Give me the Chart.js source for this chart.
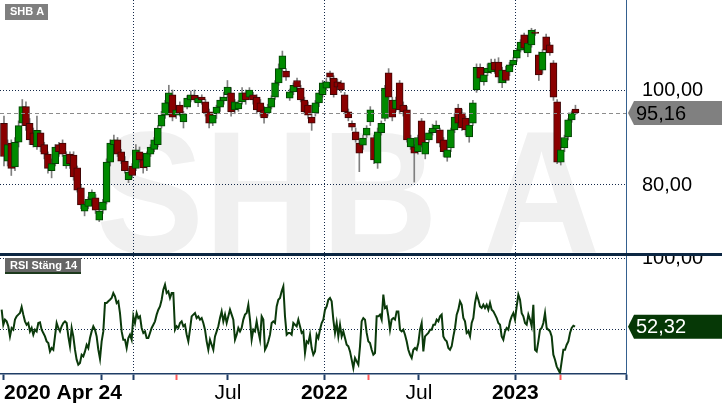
<!DOCTYPE html>
<html>
<head>
<meta charset="utf-8">
<title>SHB A</title>
<script src="https://cdn.jsdelivr.net/npm/chart.js@4.4.1/dist/chart.umd.min.js"></script>
<style>
  html, body { margin: 0; padding: 0; background: #fff; }
  #wrap { position: relative; width: 722px; height: 410px; overflow: hidden; }
  #pricePane { position: absolute; left: 0; top: 0; width: 722px; height: 256px; }
  #rsiPane { position: absolute; left: 0; top: 256px; width: 722px; height: 154px; }
</style>
</head>
<body>
<div id="wrap">
  <div id="pricePane"><canvas id="priceChart"></canvas></div>
  <div id="rsiPane"><canvas id="rsiChart"></canvas></div>
</div>
<script>
const ticker = 'SHB A';
const rsiTitle = 'RSI Stäng 14';

// x axis in days, counted from the first weekly candle
const xMin = -7.6;
const xMax = 1188.6;
const tickDays   = [0, 186, 247, 329, 428, 612, 696, 793, 977, 1063, xMax];
const tickLabels = ['2020 Apr 24', '', '', '', 'Jul', '2022', '', 'Jul', '2023', '', ''];
const yearDays   = [247, 612, 977];
const eventDays  = [329, 696, 1063];

// weekly candles
const candleStepDays = 7;
const open = [
  93.0, 85.0, 88.8, 83.8, 89.0, 93.0, 96.5, 93.0, 91.0, 88.0,
  91.0, 88.5, 86.5, 83.0, 84.5, 88.5, 88.8, 84.0, 86.5, 86.3,
  83.6, 79.4, 74.5, 75.5, 77.0, 77.3, 72.6, 74.7, 76.4, 84.8,
  88.5, 89.5, 87.0, 85.0, 81.1, 84.0, 83.5, 87.0, 85.3, 83.8,
  86.5, 87.5, 88.5, 92.4, 94.7, 97.3, 99.0, 94.7, 96.8, 93.3,
  96.4, 97.9, 98.9, 97.3, 98.5, 97.5, 95.4, 93.0, 95.0, 96.4,
  97.7, 99.0, 99.4, 95.8, 96.0, 97.5, 99.4, 98.5, 99.0, 98.5,
  97.3, 95.8, 95.2, 96.4, 98.5, 101.5, 104.5, 104.0, 98.3, 99.6,
  102.0, 100.4, 97.9, 96.8, 94.3, 95.2, 97.3, 99.0, 100.4, 103.6,
  102.5, 101.7, 101.5, 99.0, 95.4, 93.0, 91.2, 88.8, 88.4, 90.5,
  93.3, 90.0, 84.6, 91.0, 94.0, 103.6, 97.9, 96.0, 101.5, 96.8,
  95.8, 88.0, 88.0, 87.0, 93.5, 86.5, 89.5, 91.0, 91.8, 91.6,
  89.5, 85.8, 87.8, 91.6, 96.2, 95.2, 94.1, 90.1, 93.0, 100.0,
  104.8, 101.7, 103.6, 103.8, 105.9, 105.9, 101.5, 104.2, 103.8, 105.3,
  106.7, 108.4, 111.6, 107.8, 109.5, 112.2, 107.4, 104.2, 111.2, 109.5,
  105.7, 97.5, 84.8, 87.8, 90.1, 93.7, 96.0
];
const high = [
  94.5, 89.5, 89.5, 90.0, 93.5, 98.0, 97.5, 94.0, 92.0, 94.5,
  91.5, 89.0, 87.0, 85.5, 88.5, 89.0, 89.5, 87.0, 87.0, 87.0,
  84.0, 80.0, 76.5, 77.5, 79.0, 78.0, 75.0, 77.0, 85.5, 89.5,
  90.5, 90.0, 87.5, 86.0, 83.5, 84.5, 88.5, 88.0, 86.0, 87.0,
  88.5, 90.0, 92.5, 95.5, 97.8, 101.0, 100.0, 96.5, 97.5, 95.5,
  98.8, 99.8, 100.0, 98.8, 99.0, 98.0, 96.0, 95.0, 96.8, 98.5,
  99.5, 102.0, 100.5, 98.0, 97.8, 100.5, 100.0, 100.5, 99.5, 99.0,
  98.0, 96.5, 97.0, 98.8, 102.0, 105.5, 108.2, 104.5, 100.2, 101.5,
  102.5, 101.0, 98.5, 97.5, 95.0, 97.8, 99.8, 102.0, 102.5, 104.0,
  103.0, 102.3, 102.0, 99.5, 96.0, 93.5, 92.0, 89.5, 90.5, 92.5,
  96.5, 90.5, 92.0, 93.5, 101.0, 104.5, 98.5, 98.5, 102.0, 97.5,
  96.5, 90.5, 88.5, 90.5, 94.0, 89.5, 91.5, 92.8, 93.5, 92.0,
  90.0, 88.0, 92.0, 95.0, 97.0, 96.0, 94.5, 93.0, 97.8, 105.5,
  105.5, 103.8, 105.5, 106.5, 106.5, 106.8, 104.8, 105.0, 105.8, 106.8,
  108.8, 110.6, 112.0, 110.3, 113.0, 112.8, 108.0, 108.5, 111.8, 110.0,
  106.2, 98.0, 88.0, 90.5, 94.0, 95.6, 96.8
];
const low = [
  84.0, 84.0, 82.0, 83.0, 88.0, 92.5, 91.5, 88.5, 88.0, 87.5,
  87.0, 85.5, 82.5, 81.5, 84.0, 86.0, 86.0, 83.5, 83.5, 81.0,
  78.5, 75.0, 73.5, 75.0, 76.5, 74.0, 72.3, 74.0, 76.0, 84.0,
  87.5, 86.0, 84.5, 82.5, 80.5, 81.5, 83.0, 84.8, 82.5, 83.0,
  86.0, 87.0, 88.0, 92.0, 94.0, 96.5, 93.5, 94.0, 94.5, 92.0,
  96.0, 97.5, 97.5, 96.5, 97.0, 94.5, 92.0, 92.5, 94.0, 95.5,
  97.0, 98.5, 94.5, 95.0, 95.5, 97.0, 97.0, 98.0, 97.0, 95.0,
  94.5, 93.0, 94.5, 96.0, 98.0, 101.0, 104.0, 102.0, 97.8, 99.0,
  100.0, 97.5, 95.0, 94.0, 91.5, 94.5, 96.5, 98.5, 100.0, 102.0,
  98.5, 100.0, 99.5, 95.0, 93.5, 91.5, 89.0, 82.8, 87.5, 90.0,
  92.5, 84.5, 83.5, 90.5, 93.5, 98.0, 93.5, 95.5, 95.0, 94.5,
  89.0, 87.5, 80.6, 86.5, 88.0, 85.5, 89.0, 90.5, 91.0, 88.0,
  86.0, 85.0, 87.0, 91.0, 92.5, 91.5, 90.5, 89.0, 92.5, 99.5,
  102.0, 101.0, 103.0, 103.5, 103.5, 101.5, 100.5, 101.5, 103.0, 105.0,
  106.0, 108.0, 108.0, 107.0, 109.0, 111.5, 102.0, 103.5, 108.0, 107.3,
  97.8, 84.5, 84.2, 87.0, 89.5, 93.2, 94.8
];
const close = [
  86.0, 88.5, 83.5, 89.0, 92.5, 96.5, 92.5, 89.5, 88.5, 91.5,
  88.0, 86.5, 83.5, 84.5, 88.0, 87.0, 86.5, 86.3, 84.5, 81.7,
  78.9, 75.8, 76.0, 77.0, 78.5, 74.7, 74.5, 76.4, 84.8, 88.8,
  89.5, 86.5, 85.0, 83.0, 82.7, 82.0, 87.4, 85.3, 83.6, 86.7,
  88.0, 89.5, 92.0, 94.7, 97.3, 99.4, 94.3, 95.8, 95.2, 95.0,
  98.3, 99.0, 97.9, 98.3, 97.9, 95.2, 93.0, 94.7, 96.4, 97.9,
  98.5, 100.6, 95.4, 97.5, 97.3, 99.4, 97.9, 100.0, 97.9, 95.8,
  95.4, 94.1, 96.4, 98.3, 101.5, 104.5, 107.2, 102.7, 99.6, 101.0,
  100.6, 97.9, 95.4, 94.7, 93.0, 97.3, 99.4, 101.5, 101.7, 102.7,
  99.0, 100.6, 100.0, 95.4, 94.1, 92.2, 89.5, 86.7, 89.9, 92.0,
  95.8, 85.3, 91.2, 93.0, 100.4, 98.5, 94.3, 97.9, 95.8, 95.4,
  89.5, 89.9, 86.7, 90.0, 88.4, 89.0, 91.0, 92.0, 92.6, 88.8,
  87.0, 87.4, 91.6, 94.3, 93.0, 92.0, 91.6, 92.6, 97.3, 104.8,
  102.5, 103.2, 104.6, 105.7, 104.2, 102.7, 104.2, 102.0, 105.3, 106.3,
  108.4, 110.1, 108.8, 109.9, 112.6, 111.9, 103.2, 108.0, 108.4, 107.8,
  98.5, 84.8, 87.4, 90.0, 93.7, 95.2, 95.16
];
const priceTicks = [80, 100];
const priceMin = 65.05;
const priceMax = 118.95;

// RSI (14, close)
const rsiStartDay = -4.46;
const rsiStepDays = 3.185;
const rsi = [
  64.3, 53.7, 57.3, 56.1, 52.6, 45.5, 51.4, 50.2, 57.3, 59.6,
  60.8, 61.9, 66.2, 60.8, 56.1, 53.7, 54.9, 49.0, 51.4, 46.7,
  50.2, 49.0, 54.9, 55.4, 50.2, 47.9, 45.5, 42.0, 40.8, 34.9,
  37.3, 36.1, 45.5, 54.9, 51.4, 49.0, 52.6, 54.9, 56.1, 54.9,
  45.5, 38.5, 51.4, 45.5, 36.1, 29.1, 25.6, 26.7, 32.6, 31.4,
  34.9, 39.6, 37.3, 44.3, 49.0, 52.6, 50.2, 45.5, 36.1, 29.6,
  42.0, 49.0, 69.0, 69.0, 70.2, 71.3, 72.5, 76.0, 73.7, 69.0,
  70.2, 61.9, 49.0, 43.2, 43.2, 37.3, 44.3, 46.7, 43.2, 59.6,
  54.9, 61.9, 58.4, 59.6, 51.4, 47.9, 49.0, 44.3, 44.3, 47.9,
  51.4, 53.7, 56.1, 60.8, 64.3, 66.6, 71.3, 78.4, 81.9, 76.0,
  77.2, 72.5, 76.0, 76.0, 50.2, 52.6, 51.4, 54.9, 56.1, 52.6,
  53.7, 46.7, 42.0, 50.2, 59.6, 60.8, 61.9, 58.4, 59.6, 57.3,
  58.4, 54.9, 50.2, 42.0, 36.1, 43.2, 39.6, 36.1, 45.5, 49.0,
  52.6, 58.4, 63.1, 56.1, 60.8, 54.9, 59.6, 64.3, 60.8, 57.3,
  43.2, 46.7, 51.4, 49.0, 51.4, 57.3, 60.8, 61.9, 67.8, 57.3,
  43.2, 50.2, 49.0, 56.1, 49.0, 43.2, 59.6, 57.3, 36.1, 38.5,
  42.0, 46.7, 54.9, 56.1, 54.9, 66.6, 71.3, 72.5, 77.2, 80.7,
  59.6, 46.7, 47.9, 47.9, 46.7, 54.9, 53.7, 52.6, 57.3, 52.6,
  47.9, 49.0, 33.8, 42.0, 40.8, 46.7, 37.3, 32.6, 34.9, 46.7,
  44.3, 50.2, 54.9, 57.3, 64.3, 66.6, 71.3, 72.5, 70.2, 57.3,
  47.9, 54.9, 45.5, 53.7, 45.5, 49.0, 44.3, 39.6, 38.5, 34.9,
  29.1, 23.2, 30.3, 27.9, 25.6, 38.5, 56.1, 58.4, 57.3, 47.9,
  42.0, 40.8, 36.1, 32.6, 33.8, 59.6, 59.6, 60.8, 57.3, 74.9,
  65.5, 66.6, 59.6, 50.2, 57.3, 58.4,
  57.3, 63.1, 63.1, 50.2, 49.0, 50.2, 46.7, 42.0, 36.1, 32.6,
  30.3, 36.1, 37.3, 36.1, 40.8, 50.2, 54.9, 34.9, 45.5, 46.7,
  47.9, 50.2, 50.2, 53.7, 53.7, 57.3, 56.1, 59.6, 60.8, 45.5,
  43.2, 42.0, 37.3, 36.1, 38.5, 45.5, 51.4, 60.8, 64.3, 70.2,
  67.8, 58.4, 56.1, 47.9, 49.0, 45.5, 54.9, 58.4, 69.0, 74.9,
  71.3, 66.6, 65.5, 67.8, 65.5, 67.8, 64.3, 69.0, 64.3, 63.1,
  60.8, 58.4, 54.9, 53.7, 45.5, 43.2, 49.0, 51.4, 50.2, 56.1,
  59.6, 61.9, 57.3, 66.6, 74.9, 71.3, 61.9, 59.6, 54.9, 53.7,
  60.8, 57.3, 52.6, 67.8, 36.1, 34.9, 42.0, 50.2, 51.4, 54.9,
  61.9, 51.4, 50.2, 49.0, 45.5, 32.6, 29.1, 24.4, 22.0, 19.7,
  27.9, 36.1, 36.1, 39.6, 42.0, 47.9, 51.4, 53.0, 52.32
];
const rsiTicks = [50, 100];
const rsiMin = 19.0;
const rsiMax = 102.1;

const FONT = '"Liberation Sans", Arial, sans-serif';
const GRID = '#14294a';
const AXIS = '#1f3d66';
const FRAME = '#34608f';
const UP = '#008a00', UP_EDGE = '#034003';
const DOWN = '#8a0000', DOWN_EDGE = '#3d0606';

const fmt = v => v.toFixed(2).replace('.', ',');
const isUp = i => close[i] >= open[i];

const candleDays = close.map((_, i) => i * candleStepDays);
const bodies = close.map((c, i) => ({ x: candleDays[i], y: [open[i], c] }));
const wicks = close.map((c, i) => ({ x: candleDays[i], y: [low[i], high[i]] }));
const rsiPoints = rsi.map((v, i) => ({ x: rsiStartDay + i * rsiStepDays, y: v }));

const setXTicks = scale => { scale.ticks = tickDays.map(v => ({ value: v })); };
const xGridColor = c => (c.tick && yearDays.includes(c.tick.value)) ? GRID : 'rgba(0,0,0,0)';

function valueTag(ctx, area, y, text, fill, color) {
  const x0 = area.right + 2;
  ctx.save();
  ctx.fillStyle = fill;
  ctx.beginPath();
  ctx.moveTo(x0, y);
  ctx.lineTo(x0 + 6, y - 12);
  ctx.lineTo(ctx.canvas.width, y - 12);
  ctx.lineTo(ctx.canvas.width, y + 12);
  ctx.lineTo(x0 + 6, y + 12);
  ctx.closePath();
  ctx.fill();
  ctx.fillStyle = color;
  ctx.font = '20px ' + FONT;
  ctx.textBaseline = 'middle';
  ctx.fillText(text, x0 + 8, y + 1);
  ctx.restore();
}

function titleTag(ctx, x, y, w, text, fill, underline) {
  ctx.save();
  ctx.fillStyle = fill;
  ctx.fillRect(x, y, w, 16);
  if (underline) {
    ctx.fillStyle = underline;
    ctx.fillRect(x, y + 14, w, 2);
  }
  ctx.fillStyle = '#fff';
  ctx.font = 'bold 11px ' + FONT;
  ctx.textBaseline = 'middle';
  ctx.fillText(text, x + 5, y + 8);
  ctx.restore();
}

const pricePanel = {
  id: 'pricePanel',
  beforeDraw(chart) {
    const { ctx, chartArea: a } = chart;
    ctx.save();
    ctx.beginPath();
    ctx.rect(a.left, a.top, a.width, a.height);
    ctx.clip();
    ctx.fillStyle = '#f0f0f0';
    ctx.font = 'bold 162px ' + FONT;
    ctx.translate(96, 253);
    ctx.scale(1, 1.08);
    ctx.fillText(ticker, 0, 0);
    ctx.restore();
  },
  afterDatasetsDraw(chart) {
    const { ctx, chartArea: a, scales: { y } } = chart;
    const yv = y.getPixelForValue(close[close.length - 1]);
    ctx.save();
    ctx.strokeStyle = '#8c8c8c';
    ctx.lineWidth = 1;
    ctx.setLineDash([4, 3]);
    ctx.beginPath();
    ctx.moveTo(a.left, Math.round(yv) + 0.5);
    ctx.lineTo(a.right, Math.round(yv) + 0.5);
    ctx.stroke();
    ctx.restore();
  },
  afterDraw(chart) {
    const { ctx, chartArea: a, scales: { y } } = chart;
    const last = close[close.length - 1];
    valueTag(ctx, a, y.getPixelForValue(last), fmt(last), '#808080', '#000');
    titleTag(ctx, 5, 4, 43, ticker, '#7f7f7f', null);
    ctx.save();
    ctx.fillStyle = '#0c2743';
    ctx.fillRect(0, ctx.canvas.height - 3, ctx.canvas.width, 3);
    ctx.restore();
  }
};

const rsiPanel = {
  id: 'rsiPanel',
  afterDraw(chart) {
    const { ctx, chartArea: a, scales: { y } } = chart;
    const last = rsi[rsi.length - 1];
    valueTag(ctx, a, y.getPixelForValue(last), fmt(last), '#063806', '#fff');
    titleTag(ctx, 5, 2, 76, rsiTitle, '#666666', '#1d3a1d');
  }
};

new Chart(document.getElementById('priceChart'), {
  type: 'bar',
  data: {
    datasets: [
      {
        label: 'Kurs',
        data: bodies,
        backgroundColor: c => (c.dataIndex === undefined || isUp(c.dataIndex)) ? UP : DOWN,
        borderColor: c => (c.dataIndex === undefined || isUp(c.dataIndex)) ? UP_EDGE : DOWN_EDGE,
        borderWidth: 1,
        borderSkipped: false,
        barThickness: 7,
        grouped: false,
        order: 0
      },
      {
        label: 'Spann',
        data: wicks,
        backgroundColor: '#7f7f7f',
        borderWidth: 0,
        barThickness: 1,
        grouped: false,
        order: 1
      }
    ]
  },
  options: {
    responsive: true,
    maintainAspectRatio: false,
    animation: false,
    layout: { padding: 0 },
    scales: {
      x: {
        type: 'linear',
        min: xMin,
        max: xMax,
        offset: false,
        afterBuildTicks: setXTicks,
        afterFit: s => { s.height = 0; s.paddingLeft = 0; s.paddingRight = 0; },
        ticks: { display: false },
        grid: { color: xGridColor, drawTicks: false, offset: false },
        border: { display: false, dash: [1, 2] }
      },
      y: {
        position: 'right',
        min: priceMin,
        max: priceMax,
        afterBuildTicks: s => { s.ticks = priceTicks.map(v => ({ value: v })); },
        afterFit: s => { s.width = 96; s.paddingTop = 0; s.paddingBottom = 0; },
        ticks: { callback: v => fmt(v), color: '#000', font: { family: FONT, size: 20 }, padding: 16 },
        grid: { color: GRID, drawTicks: false },
        border: { display: true, color: FRAME, width: 1, dash: [1, 2] }
      }
    },
    plugins: { legend: { display: false }, tooltip: { enabled: false } }
  },
  plugins: [pricePanel]
});

new Chart(document.getElementById('rsiChart'), {
  type: 'line',
  data: {
    datasets: [{
      label: rsiTitle,
      data: rsiPoints,
      borderColor: '#0b3a0b',
      borderWidth: 2,
      pointRadius: 0,
      tension: 0,
      fill: false
    }]
  },
  options: {
    responsive: true,
    maintainAspectRatio: false,
    animation: false,
    layout: { padding: 0 },
    scales: {
      x: {
        type: 'linear',
        min: xMin,
        max: xMax,
        offset: false,
        afterBuildTicks: setXTicks,
        afterFit: s => { s.height = 36; s.paddingLeft = 0; s.paddingRight = 0; },
        ticks: {
          autoSkip: false,
          maxRotation: 0,
          align: 'inner',
          padding: 1,
          color: '#000',
          callback: (v, i) => tickLabels[i],
          font: c => ({ family: FONT, size: 21, weight: /^\d/.test(tickLabels[c.index] || '') ? 'bold' : 'normal' })
        },
        grid: {
          color: xGridColor,
          drawTicks: true,
          tickLength: 6,
          tickWidth: 2,
          tickColor: c => (c.tick && eventDays.includes(c.tick.value)) ? '#ff5a5a' : AXIS,
          offset: false
        },
        border: { display: true, color: AXIS, width: 1.5, dash: [1, 2] }
      },
      y: {
        position: 'right',
        min: rsiMin,
        max: rsiMax,
        afterBuildTicks: s => { s.ticks = rsiTicks.map(v => ({ value: v })); },
        afterFit: s => { s.width = 96; s.paddingTop = 0; s.paddingBottom = 0; },
        ticks: { callback: v => v === 100 ? fmt(v) : '', color: '#000', font: { family: FONT, size: 20 }, padding: 16 },
        grid: { color: GRID, drawTicks: false },
        border: { display: true, color: FRAME, width: 1, dash: [1, 2] }
      }
    },
    plugins: { legend: { display: false }, tooltip: { enabled: false } }
  },
  plugins: [rsiPanel]
});
</script>
</body>
</html>
